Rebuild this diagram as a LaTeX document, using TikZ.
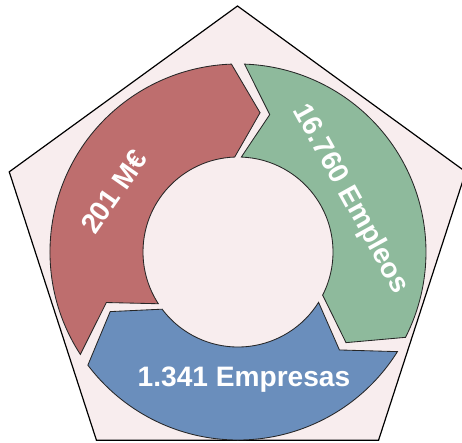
\documentclass[tikz,border=0pt]{standalone}
\usepackage{fontspec}
\setmainfont{Liberation Sans}
\usetikzlibrary{positioning}
\definecolor{bgpink}{RGB}{248,237,238}
\definecolor{segred}{RGB}{190,110,110}
\definecolor{seggreen}{RGB}{142,186,156}
\definecolor{segblue}{RGB}{106,142,188}

\begin{document}
\begin{tikzpicture}[x=0.25mm, y=0.25mm, seg/.style={draw=black!85, line width=0.6pt}, lbl/.style={text=white, font=\fontsize{20}{24}\selectfont\bfseries, inner sep=0pt}]
	\useasboundingbox (-238,-190) rectangle (224,252);
	\draw[fill=bgpink, line width=0.85pt] (-0.5,6) +(90:240) -- +(162:240) -- +(234:240) -- +(306:240) -- +(18:240) -- cycle;
	% tail / notch / head / tip angles, clockwise
	\foreach \a/\n/\b/\t/\c in {213/201/92/81/segred, 88/77/-27/-40/seggreen, -32/-44/-143/-155/segblue} {
		\draw[seg, fill=\c] (\a:188) arc[start angle=\a, end angle=\b, radius=188] -- (\t:141) -- (\b:95) arc[start angle=\b, end angle=\a, radius=95] -- (\n:141) -- cycle;
	}
	\node[lbl, rotate=55] (money) at (-124,60) {201 M€};
	\node[lbl, rotate=-61] (jobs) at (112,53) {16.760 Empleos};
	\node[lbl] (firms) at (6,-128) {1.341 Empresas};
\end{tikzpicture}
\end{document}
